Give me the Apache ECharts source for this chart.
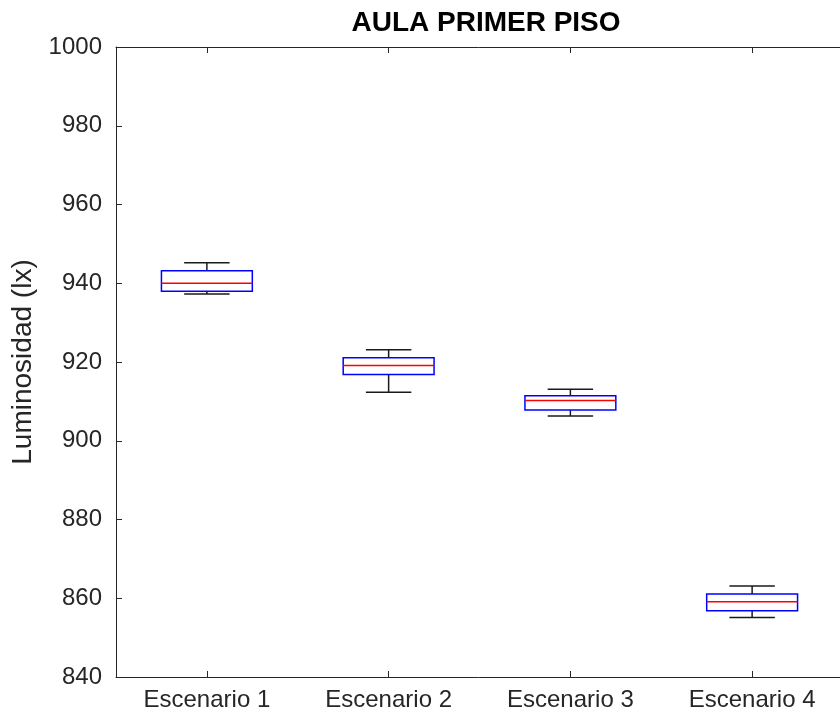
<!DOCTYPE html>
<html>
<head>
<meta charset="utf-8">
<script src="https://cdn.jsdelivr.net/npm/echarts@6/dist/echarts.min.js"></script>
<style>html,body{margin:0;padding:0;background:#fff;}#c{width:840px;height:715px;}</style>
</head>
<body>
<div id="c"></div>
<script>
const categories = ['Escenario 1', 'Escenario 2', 'Escenario 3', 'Escenario 4'];
const whiskerLow  = [937.3, 912.3, 906.3, 855.1];
const q1          = [938.0, 916.8, 907.8, 856.8];
const median      = [940.0, 919.1, 910.2, 859.1];
const q3          = [943.2, 921.1, 911.4, 861.1];
const whiskerHigh = [945.2, 923.1, 913.1, 863.1];
const yTicks = {min: 840, max: 1000, interval: 20};

const data = categories.map((c, i) => [i, whiskerLow[i], q1[i], median[i], q3[i], whiskerHigh[i]]);
const font = 'Liberation Sans, Arial, Helvetica, sans-serif';
const axisColor = '#262626';

const chart = echarts.init(document.getElementById('c'));
chart.setOption({
  animation: false,
  backgroundColor: '#fff',
  title: {
    text: 'AULA PRIMER PISO',
    left: 481, top: 4, textAlign: 'center',
    textStyle: {fontFamily: font, fontSize: 28, fontWeight: 'bold', color: '#000'}
  },
  grid: {left: 116, right: -3, top: 47, bottom: 38, containLabel: false, outerBoundsMode: 'none'},
  xAxis: [{
    type: 'category', data: categories, position: 'bottom',
    axisLine: {lineStyle: {color: axisColor, width: 1}},
    axisTick: {show: true, inside: true, length: 6, alignWithLabel: true, lineStyle: {color: axisColor, width: 1}},
    axisLabel: {fontFamily: font, fontSize: 24, color: axisColor, margin: 11},
    splitLine: {show: false}
  }, {
    type: 'category', data: categories, position: 'top',
    axisLine: {lineStyle: {color: axisColor, width: 1}},
    axisTick: {show: true, inside: true, length: 6, alignWithLabel: true, lineStyle: {color: axisColor, width: 1}},
    axisLabel: {show: false},
    splitLine: {show: false}
  }],
  yAxis: {
    type: 'value', min: yTicks.min, max: yTicks.max, interval: yTicks.interval,
    name: 'Luminosidad (lx)', nameLocation: 'middle', nameGap: 74,
    nameTextStyle: {fontFamily: font, fontSize: 28, color: axisColor},
    axisLine: {show: true, lineStyle: {color: axisColor, width: 1}},
    axisTick: {show: true, inside: true, length: 6, lineStyle: {color: axisColor, width: 1}},
    axisLabel: {fontFamily: font, fontSize: 24, color: axisColor, margin: 14,
      formatter: function (v) { return String(v); }},
    splitLine: {show: false}
  },
  series: [{
    type: 'custom',
    xAxisIndex: 0,
    encode: {x: 0, y: [1, 2, 3, 4, 5]},
    data: data,
    renderItem: function (params, api) {
      const x = api.value(0);
      const bw = api.size([1, 0])[0];
      const hb = bw * 0.25, hc = bw * 0.125;
      const pLow = api.coord([x, api.value(1)]);
      const pQ1 = api.coord([x, api.value(2)]);
      const pMed = api.coord([x, api.value(3)]);
      const pQ3 = api.coord([x, api.value(4)]);
      const pHigh = api.coord([x, api.value(5)]);
      const cx = pMed[0];
      const black = {stroke: '#1a1a1a', lineWidth: 1.5};
      return {
        type: 'group',
        children: [
          {type: 'line', shape: {x1: cx, y1: pQ3[1], x2: cx, y2: pHigh[1]}, style: black},
          {type: 'line', shape: {x1: cx - hc, y1: pHigh[1], x2: cx + hc, y2: pHigh[1]}, style: black},
          {type: 'line', shape: {x1: cx, y1: pQ1[1], x2: cx, y2: pLow[1]}, style: black},
          {type: 'line', shape: {x1: cx - hc, y1: pLow[1], x2: cx + hc, y2: pLow[1]}, style: black},
          {type: 'rect', shape: {x: cx - hb, y: pQ3[1], width: 2 * hb, height: pQ1[1] - pQ3[1]},
            style: {fill: 'none', stroke: '#0000ff', lineWidth: 1.5}},
          {type: 'line', shape: {x1: cx - hb, y1: pMed[1], x2: cx + hb, y2: pMed[1]},
            style: {stroke: '#ff0000', lineWidth: 1.5}}
        ]
      };
    }
  }]
});
</script>
</body>
</html>
